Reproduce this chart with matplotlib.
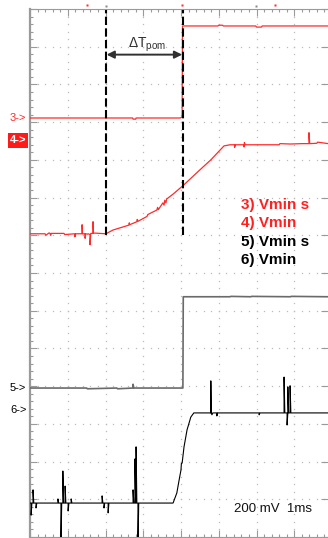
import numpy as np
import matplotlib
matplotlib.use("Agg")
import matplotlib.pyplot as plt
from matplotlib.ticker import MultipleLocator
from matplotlib.patches import Rectangle

plt.rcParams['font.family'] = ['Liberation Sans', 'DejaVu Sans']
plt.rcParams['mathtext.fontset'] = 'custom'
plt.rcParams['mathtext.rm'] = 'Liberation Sans'

# screen in divisions: x = time (1 ms/div), y = divisions from bottom
XMAX = 7.894
YMAX = 14.0

# channel 3 (red, switched)
ch3_t = [0.00, 2.72, 2.73, 2.80, 2.81, 3.98, 4.02, 4.03, 4.04, 4.98, 5.00, 5.10, 5.12,
         5.98, 6.00, 6.13, 6.15, 7.90]
ch3_v = [11.11, 11.11, 11.08, 11.08, 11.11, 11.11, 11.13, 11.13, 13.55, 13.55, 13.57, 13.57, 13.55,
         13.55, 13.52, 13.52, 13.55, 13.55]

# channel 4 (red, slow ramp)
ch4_t = [0.00, 0.40, 0.42, 0.50, 0.52, 0.55, 0.56, 0.90, 0.92, 1.19, 1.19, 1.21, 1.38, 1.38, 1.39,
         1.46, 1.46, 1.47, 1.52, 1.54, 1.59, 1.59, 1.61, 1.67, 1.67, 1.68, 2.01, 2.20, 2.46,
         2.62, 2.63, 2.64, 2.83, 2.84, 2.86, 3.10, 3.12, 3.36, 3.38, 3.40, 3.52, 3.55, 3.57,
         3.60, 3.62, 3.80, 4.08, 4.42, 4.79, 5.14, 5.30, 5.42, 5.42, 5.44, 5.67, 5.67, 5.68,
         5.70, 6.60, 6.62, 6.90, 7.20, 7.39, 7.39, 7.41, 7.60, 7.62, 7.90]
ch4_v = [8.04, 8.04, 8.00, 8.06, 8.06, 8.00, 8.05, 8.05, 8.02, 8.04, 7.96, 8.04, 8.04, 8.28, 8.04,
         8.04, 7.92, 8.04, 8.03, 8.04, 8.02, 7.75, 8.05, 8.05, 8.36, 8.06, 8.04, 8.14, 8.22,
         8.27, 8.33, 8.28, 8.36, 8.42, 8.37, 8.50, 8.55, 8.67, 8.74, 8.68, 8.86, 8.80, 8.93,
         8.86, 8.96, 9.10, 9.34, 9.66, 10.00, 10.37, 10.40, 10.40, 10.33, 10.40, 10.40, 10.34, 10.46,
         10.40, 10.40, 10.43, 10.42, 10.43, 10.43, 10.72, 10.43, 10.44, 10.47, 10.43]

# channel 5 (gray, switched)
ch5_t = [0.00, 1.50, 1.52, 2.30, 2.32, 2.73, 2.73, 2.75, 4.03, 4.05, 4.06, 5.30, 5.32, 5.85, 5.87,
         6.90, 6.92, 7.90]
ch5_v = [3.95, 3.95, 3.93, 3.95, 3.93, 3.95, 4.05, 3.95, 3.95, 3.95, 6.37, 6.37, 6.38, 6.37, 6.38,
         6.37, 6.38, 6.37]

# channel 6 (black, fast ramp with spikes)
ch6_t = [0.00, 0.03, 0.03, 0.05, 0.08, 0.08, 0.10, 0.16, 0.16, 0.18, 0.74, 0.74, 0.76, 0.82,
         0.82, 0.84, 0.87, 0.87, 0.89, 0.93, 0.93, 0.95, 1.01, 1.01, 1.03, 1.09, 1.09, 1.11,
         1.91, 1.91, 1.93, 1.96, 1.96, 1.98, 2.07, 2.07, 2.09, 2.73, 2.73, 2.75, 2.78, 2.78,
         2.80, 2.81, 2.81, 2.83, 2.86, 2.86, 2.88, 3.79, 3.89, 3.95, 4.00, 4.01, 4.03,
         4.08, 4.16, 4.26, 4.34, 4.79, 4.79, 4.80, 4.82, 4.84, 4.95, 4.95, 4.97, 6.07, 6.07,
         6.09, 6.73, 6.73, 6.75, 6.81, 6.81, 6.83, 6.83, 6.85, 6.89, 6.89, 6.91, 7.90]
ch6_v = [0.90, 0.90, 0.58, 0.90, 0.90, 1.25, 0.90, 0.90, 0.77, 0.90, 0.90, 1.01, 0.90, 0.90,
         -0.20, 0.90, 0.90, 1.75, 0.90, 0.90, 1.35, 0.90, 0.90, 0.69, 0.90, 0.90, 1.01, 0.90,
         0.90, 1.09, 0.90, 0.90, 0.77, 0.90, 0.90, 0.64, 0.90, 0.90, 1.25, 0.90, 0.90, 2.07,
         0.90, 0.90, 2.39, 0.90, 0.90, -0.20, 0.90, 0.90, 1.17, 1.51, 1.78, 1.95, 1.96,
         2.39, 2.84, 3.18, 3.29, 3.29, 4.14, 3.29, 3.24, 3.29, 3.29, 3.21, 3.29, 3.29, 3.24,
         3.29, 3.29, 4.24, 3.29, 3.29, 2.97, 3.29, 3.98, 3.29, 3.29, 4.01, 3.29, 3.29]

# cursors and labels
cursor_t = [2.01, 4.05]
cursor_bottom = 8.01
arrow_y = 12.79
legend_labels = ["3) Vmin s", "4) Vmin", "5) Vmin s", "6) Vmin"]
legend_colors = ["#ff2020", "#ff2020", "black", "black"]
legend_y = [8.81, 8.33, 7.82, 7.35]
scale_text = "200 mV  1ms"

red = "#ff2a2a"
gridc = "#bcbcbc"
framec = "#9a9a9a"

fig = plt.figure(figsize=(3.28, 5.38), dpi=100)
ax = fig.add_axes([30 / 328, 1 / 538, 298 / 328, 528 / 538])
ax.set_xlim(0, XMAX)
ax.set_ylim(0, YMAX)

# dotted graticule
for gx in range(1, 8):
    yy = np.arange(0.2, YMAX, 0.2)
    ax.plot(np.full_like(yy, gx), yy, ls='', marker='s', ms=0.9, mec='none', mfc=gridc, zorder=1)
for gy in range(1, 14):
    xx = np.arange(0.2, XMAX, 0.2)
    ax.plot(xx, np.full_like(xx, gy), ls='', marker='s', ms=0.9, mec='none', mfc=gridc, zorder=1)

# frame and ticks
ax.spines['right'].set_visible(False)
ax.spines['left'].set_color(framec)
ax.spines['left'].set_linewidth(1.6)
ax.spines['top'].set_color(framec)
ax.spines['top'].set_linewidth(0.8)
ax.spines['bottom'].set_color(framec)
ax.spines['bottom'].set_linewidth(0.8)
ax.xaxis.set_major_locator(MultipleLocator(1))
ax.xaxis.set_minor_locator(MultipleLocator(0.2))
ax.yaxis.set_major_locator(MultipleLocator(1))
ax.yaxis.set_minor_locator(MultipleLocator(0.2))
ax.tick_params(which='both', direction='in', colors=framec, width=0.8,
               labelbottom=False, labelleft=False, top=True, right=True)
ax.tick_params(which='major', length=5)
ax.tick_params(which='minor', length=2.2)
ax.tick_params(axis='y', which='minor', right=False)

# traces
ax.plot(ch3_t, ch3_v, color=red, lw=0.9, zorder=3)
ax.plot(ch4_t, ch4_v, color=red, lw=0.9, zorder=3)
ax.plot(ch5_t, ch5_v, color="#6a6a6a", lw=1.2, zorder=3)
ax.plot(ch6_t, ch6_v, color="black", lw=0.8, zorder=3)

# cursors
for ct in cursor_t:
    ln, = ax.plot([ct, ct], [cursor_bottom, YMAX - 0.03], color='black', lw=1.5,
                  zorder=4, clip_on=False)
    ln.set_dashes([4, 1.6])
ax.annotate('', xy=(cursor_t[0] + 0.02, arrow_y), xytext=(cursor_t[1] - 0.02, arrow_y),
            arrowprops=dict(arrowstyle='<|-|>', color='#303030', lw=1.4,
                            mutation_scale=11, shrinkA=0, shrinkB=0), zorder=5)
ax.text(sum(cursor_t) / 2 + 0.08, 13.05, r'$\Delta$T$_{\mathrm{pom}}$', ha='center', va='center',
        fontsize=10, color='#303030')

# legend text
for lab, c, y in zip(legend_labels, legend_colors, legend_y):
    ax.text(5.59, y, lab, color=c, fontsize=11, fontweight='bold', ha='left', va='center')
ax.text(5.40, 0.74, scale_text, fontsize=9.5, ha='left', va='center', color='#111111')

# top markers
ax.plot([1.51, 4.03, 6.49], [14.11, 14.11, 14.11], ls='', marker='s', ms=1.5, mec='none',
        mfc=red, clip_on=False)
ax.plot([2.01, 5.99], [14.08, 14.08], ls='', marker='s', ms=1.5, mec='none',
        mfc='#888888', clip_on=False)

# channel ground markers (figure pixel coords)
def fy(py):
    return 1 - py / 538

fig.text(10 / 328, fy(118), "3->", color=red, fontsize=8, va='center', ha='left')
fig.add_artist(Rectangle((8 / 328, fy(148)), 20 / 328, 15 / 538, transform=fig.transFigure,
                         facecolor='#ff1a1a', edgecolor='none'))
fig.text(10 / 328, fy(140.5), "4->", color='white', fontsize=8, fontweight='bold', va='center', ha='left')
fig.text(10 / 328, fy(388), "5->", color='black', fontsize=8, va='center', ha='left')
fig.text(10 / 328, fy(410), "6->", color='black', fontsize=8, va='center', ha='left')

fig.savefig("out.png", dpi=100)
